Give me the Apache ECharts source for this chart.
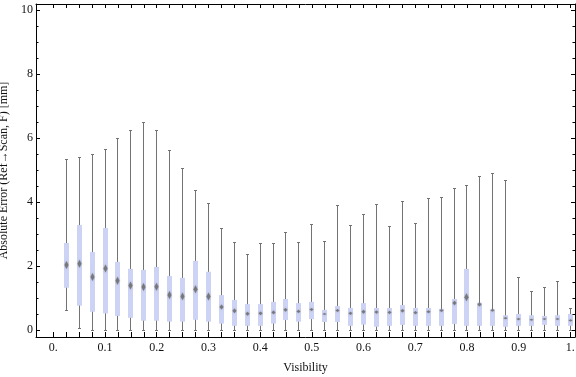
<!DOCTYPE html>
<html>
<head>
<meta charset="utf-8">
<script src="https://cdn.jsdelivr.net/npm/echarts@6/dist/echarts.min.js"></script>
<style>
  html, body { margin: 0; padding: 0; background: #fff; }
  #chart { width: 576px; height: 377px; }
</style>
</head>
<body>
<div id="chart"></div>
<script>
// box positions (visibility bins)
const visibility = [0.025, 0.05, 0.075, 0.1, 0.125, 0.15, 0.175, 0.2, 0.225, 0.25,
  0.275, 0.3, 0.325, 0.35, 0.375, 0.4, 0.425, 0.45, 0.475, 0.5,
  0.525, 0.55, 0.575, 0.6, 0.625, 0.65, 0.675, 0.7, 0.725, 0.75,
  0.775, 0.8, 0.825, 0.85, 0.875, 0.9, 0.925, 0.95, 0.975, 1.0];

const whiskerLow = [0.63, 0.05, 0, 0, 0, 0, 0, 0, 0, 0,
  0, 0, 0, 0, 0, 0, 0, 0, 0, 0,
  0, 0, 0, 0, 0, 0, 0, 0, 0, 0,
  0, 0, 0, 0, 0, 0, 0, 0, 0, 0];

const quartileLow = [1.32, 0.76, 0.57, 0.52, 0.44, 0.38, 0.29, 0.29, 0.26, 0.26,
  0.32, 0.26, 0.20, 0.13, 0.13, 0.13, 0.20, 0.31, 0.26, 0.34,
  0.25, 0.25, 0.13, 0.17, 0.10, 0.13, 0.16, 0.13, 0.13, 0.13,
  0.19, 0.13, 0.13, 0.13, 0.10, 0.13, 0.13, 0.16, 0.13, 0.13];

const medians = [2.03, 2.07, 1.66, 1.92, 1.54, 1.39, 1.34, 1.35, 1.09, 1.05,
  1.27, 1.05, 0.72, 0.60, 0.51, 0.52, 0.55, 0.63, 0.58, 0.64,
  0.50, 0.61, 0.52, 0.57, 0.56, 0.55, 0.60, 0.54, 0.57, 0.61,
  0.84, 1.02, 0.80, 0.62, 0.37, 0.34, 0.32, 0.34, 0.34, 0.30];

const quartileHigh = [2.72, 3.28, 2.44, 3.19, 2.13, 1.91, 1.88, 1.97, 1.69, 1.63,
  2.16, 1.82, 1.09, 0.94, 0.81, 0.81, 0.88, 0.97, 0.84, 0.88,
  0.63, 0.75, 0.69, 0.84, 0.69, 0.69, 0.78, 0.69, 0.69, 0.66,
  0.97, 1.91, 0.85, 0.64, 0.46, 0.50, 0.46, 0.44, 0.46, 0.50];

const whiskerHigh = [5.34, 5.40, 5.49, 5.66, 5.99, 6.24, 6.50, 6.24, 5.63, 5.05,
  4.37, 3.96, 3.18, 2.74, 2.37, 2.72, 2.72, 3.05, 2.75, 3.31,
  2.77, 3.90, 3.28, 3.63, 3.93, 3.24, 4.02, 3.33, 4.11, 4.15,
  4.43, 4.52, 4.80, 4.90, 4.68, 1.65, 1.21, 1.33, 1.52, 0.68];

// ticks
const xTickValues = [0, 0.1, 0.2, 0.3, 0.4, 0.5, 0.6, 0.7, 0.8, 0.9, 1.0];
const xTickLabels = ['0.', '0.1', '0.2', '0.3', '0.4', '0.5', '0.6', '0.7', '0.8', '0.9', '1.'];
const yTickValues = [0, 2, 4, 6, 8, 10];
const yTickLabels = ['0', '2', '4', '6', '8', '10'];
const yMinorValues = [0.5, 1, 1.5, 2.5, 3, 3.5, 4.5, 5, 5.5, 6.5, 7, 7.5, 8.5, 9, 9.5];
const xBinTicks = [0].concat(visibility);

const xMin = -0.0335, xMax = 1.009;
const yMin = -0.21875, yMax = 10.1875;

const font = "'Liberation Serif', 'Times New Roman', serif";
const frameColor = '#000';

const chart = echarts.init(document.getElementById('chart'), null, { renderer: 'canvas' });

function renderBox(params, api) {
  const x = api.value(0);
  const top = api.coord([x, api.value(5)]);
  const bot = api.coord([x, api.value(1)]);
  const q3 = api.coord([x, api.value(4)]);
  const q1 = api.coord([x, api.value(2)]);
  const med = api.coord([x, api.value(3)]);
  const cx = Math.floor(top[0]) + 0.5;
  const yTop = Math.round(top[1]) + 0.5;
  const yBot = Math.round(bot[1]) + 0.5;
  const stroke = { stroke: '#737373', lineWidth: 1 };
  const boxH = q1[1] - q3[1];
  const hh = Math.max(1, Math.min(4, boxH * 0.09));
  const hw = 2;
  return {
    type: 'group',
    children: [
      { type: 'line', shape: { x1: cx, y1: yTop, x2: cx, y2: yBot }, style: stroke },
      { type: 'line', shape: { x1: cx - 1.5, y1: yTop, x2: cx + 1.5, y2: yTop }, style: stroke },
      { type: 'line', shape: { x1: cx - 1.5, y1: yBot, x2: cx + 1.5, y2: yBot }, style: stroke },
      { type: 'rect', shape: { x: cx - 2.5, y: q3[1], width: 5, height: boxH }, style: { fill: '#ccd3f5' } },
      {
        type: 'polygon',
        shape: { points: [[cx, med[1] - hh], [cx + hw, med[1]], [cx, med[1] + hh], [cx - hw, med[1]]] },
        style: { fill: 'rgba(110,110,110,0.85)', shadowBlur: 2, shadowColor: 'rgba(110,110,110,0.6)' }
      }
    ]
  };
}

// short minor ticks on the left and right frame
function renderMinorTick(params, api) {
  const v = api.value(0);
  const pl = api.coord([xMin, v]);
  const pr = api.coord([xMax, v]);
  const y = Math.round(pl[1]) + 0.5;
  const style = { stroke: frameColor, lineWidth: 1 };
  return {
    type: 'group',
    children: [
      { type: 'line', shape: { x1: pl[0], y1: y, x2: pl[0] + 2.5, y2: y }, style },
      { type: 'line', shape: { x1: pr[0], y1: y, x2: pr[0] - 2.5, y2: y }, style }
    ]
  };
}

const tickLabelStyle = { color: '#111', fontFamily: font, fontSize: 12 };
const frameLine = { show: true, onZero: false, lineStyle: { color: frameColor, width: 1 } };

const option = {
  animation: false,
  backgroundColor: '#fff',
  grid: { left: 36, right: 1, top: 4, bottom: 40, containLabel: false, outerBoundsMode: 'none' },
  xAxis: [
    {
      type: 'value', position: 'bottom', min: xMin, max: xMax,
      name: 'Visibility', nameLocation: 'middle', nameGap: 25,
      nameTextStyle: { color: '#111', fontFamily: font, fontSize: 12 },
      axisLine: frameLine,
      axisTick: { show: true, inside: true, length: 5, customValues: xBinTicks, lineStyle: { color: frameColor } },
      axisLabel: {
        show: true, margin: 5, customValues: xTickValues,
        formatter: v => xTickLabels[Math.round(v * 10)],
        ...tickLabelStyle
      },
      splitLine: { show: false }
    },
    {
      type: 'value', position: 'top', min: xMin, max: xMax,
      axisLine: frameLine,
      axisTick: { show: true, inside: true, length: 4, customValues: xBinTicks, lineStyle: { color: frameColor } },
      axisLabel: { show: false },
      splitLine: { show: false }
    }
  ],
  yAxis: [
    {
      type: 'value', position: 'left', min: yMin, max: yMax,
      name: 'Absolute Error (Ref\u2192Scan, F) [mm]', nameLocation: 'middle', nameGap: 17,
      nameTextStyle: { color: '#111', fontFamily: font, fontSize: 12 },
      axisLine: frameLine,
      axisTick: { show: true, inside: true, length: 4, customValues: yTickValues, lineStyle: { color: frameColor } },
      axisLabel: {
        show: true, margin: 3, customValues: yTickValues,
        formatter: v => yTickLabels[Math.round(v / 2)],
        ...tickLabelStyle
      },
      splitLine: { show: false }
    },
    {
      type: 'value', position: 'right', min: yMin, max: yMax,
      axisLine: frameLine,
      axisTick: { show: true, inside: true, length: 4, customValues: yTickValues, lineStyle: { color: frameColor } },
      axisLabel: { show: false },
      splitLine: { show: false }
    }
  ],
  series: [
    {
      type: 'custom',
      xAxisIndex: 0,
      yAxisIndex: 0,
      renderItem: renderBox,
      encode: { x: 0, y: [1, 2, 3, 4, 5] },
      data: visibility.map((v, i) => [v, whiskerLow[i], quartileLow[i], medians[i], quartileHigh[i], whiskerHigh[i]])
    },
    {
      type: 'custom',
      xAxisIndex: 0,
      yAxisIndex: 0,
      clip: false,
      renderItem: renderMinorTick,
      encode: { y: 0 },
      data: yMinorValues.map(v => [v])
    }
  ]
};

chart.setOption(option);
</script>
</body>
</html>
